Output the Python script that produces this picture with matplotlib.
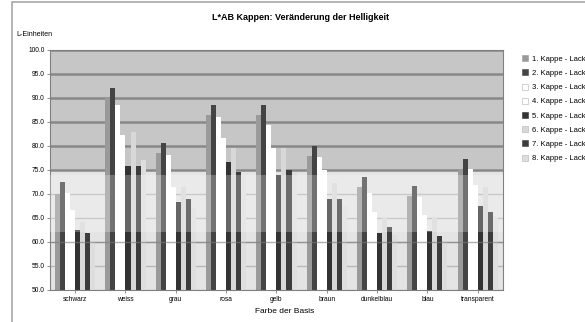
import numpy as np
import matplotlib.pyplot as plt
from matplotlib.patches import Rectangle
from matplotlib.lines import Line2D

plt.rcParams['font.family'] = ['Liberation Sans', 'DejaVu Sans']

# Farbe der Basis
farben = ["schwarz", "weiss", "grau", "rosa", "gelb", "braun", "dunkelblau", "blau", "transparent"]

# L-Werte je Kappe
kappe1 = [70.0, 90.0, 78.5, 86.5, 86.5, 78.0, 71.5, 69.5, 75.0]
kappe2 = [72.5, 92.1, 80.6, 88.5, 88.5, 80.0, 73.5, 71.7, 77.2]
kappe3 = [70.2, 88.5, 78.1, 86.1, 84.4, 77.8, 70.2, 69.4, 75.3]
kappe4 = [66.7, 82.3, 71.5, 81.7, 79.6, 75.0, 66.3, 65.6, 71.9]
kappe5 = [62.5, 75.8, 68.4, 76.7, 74.0, 68.9, 61.9, 62.2, 67.4]
kappe6 = [64.2, 83.0, 71.5, 79.6, 79.6, 72.3, 65.3, 65.3, 71.5]
kappe7 = [61.9, 75.8, 69.0, 74.6, 75.0, 68.9, 63.2, 61.3, 66.3]
kappe8 = [60.0, 77.0, 67.0, 74.0, 74.5, 67.5, 61.5, 60.0, 65.0]

serien = [kappe1, kappe2, kappe3, kappe4, kappe5, kappe6, kappe7, kappe8]
namen = ["1. Kappe - Lack", "2. Kappe - Lack", "3. Kappe - Lack", "4. Kappe - Lack",
         "5. Kappe - Lack", "6. Kappe - Lack", "7. Kappe - Lack", "8. Kappe - Lack"]
farbwerte = ['#9a9a9a', '#444444', '#ffffff', '#ffffff', '#333333', '#d8d8d8', '#3c3c3c', '#dedede']
ymin = 50.0
yticks = [50.0, 55.0, 60.0, 65.0, 70.0, 75.0, 80.0, 85.0, 90.0, 95.0, 100.0]

fig = plt.figure(figsize=(5.85, 3.22), dpi=100)
ax = fig.add_axes([0.0855, 0.0994, 0.774, 0.7456])

# Hintergrund: oben grau, unten heller
ax.axhspan(75, 100, color='#c6c6c6', zorder=0)
ax.axhspan(50, 75, color='#e4e4e4', zorder=0)
for t in yticks:
    if t >= 75:
        ax.axhline(t, color='#888888', lw=1.8, zorder=1)
    else:
        ax.axhline(t, color='#b8b8b8', lw=1.0, zorder=1)

x = np.arange(len(farben))
w = 0.1
for i, werte in enumerate(serien):
    hoehen = [v - ymin for v in werte]
    ax.bar(x + (i - 3.5) * w, hoehen, w, bottom=ymin, color=farbwerte[i],
           edgecolor='none', zorder=2)

# heller Streifen im mittleren Bereich
ax.axhspan(62, 74, color='white', alpha=0.25, zorder=3, lw=0)
ax.axhline(60, color='#7a7a7a', lw=1.0, alpha=0.6, zorder=3)

ax.set_xlim(-0.5, len(farben) - 0.5)
ax.set_ylim(50, 100)
ax.set_yticks(yticks)
ax.set_yticklabels(["%.1f" % t for t in yticks], fontsize=4.8)
ax.set_xticks(x)
ax.set_xticklabels(farben, fontsize=4.8)
ax.tick_params(length=2, width=0.6, color='#808080', pad=2)
for s in ax.spines.values():
    s.set_color('#808080')
    s.set_linewidth(0.8)

fig.text(0.513, 0.945, "L*AB Kappen: Veränderung der Helligkeit", ha='center', va='center',
         fontsize=6.5, fontweight='bold')
fig.text(0.028, 0.893, "L-Einheiten", ha='left', va='center', fontsize=5)
fig.text(0.487, 0.033, "Farbe der Basis", ha='center', va='center', fontsize=6)

# Legende
handles = [Line2D([0], [0], marker='s', ls='none', markersize=4.5, markerfacecolor=c,
                  markeredgecolor='#b0b0b0' if c in ('#ffffff', '#dedede', '#d8d8d8') else c,
                  markeredgewidth=0.4) for c in farbwerte]
fig.legend(handles, namen, loc='upper left', bbox_to_anchor=(0.893, 0.828), frameon=False,
           fontsize=5.5, handlelength=0.8, handletextpad=0.5, labelspacing=0.9,
           borderaxespad=0, borderpad=0)

# Rahmen des Diagramms
fig.patches.append(Rectangle((12 / 585, -0.05), 1.2, 1.043, transform=fig.transFigure,
                             fill=False, edgecolor='#a8a8a8', lw=1.2))

fig.savefig("out.png", dpi=100)
